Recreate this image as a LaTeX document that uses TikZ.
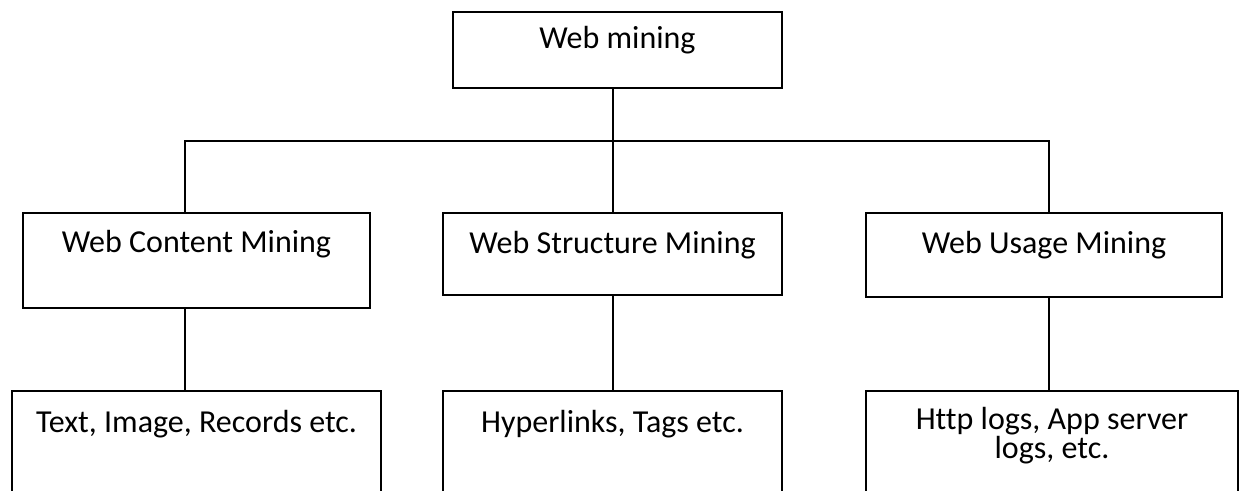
\documentclass[tikz,border=0pt]{standalone}
\usepackage{fontspec}
\setmainfont{Carlito}[Ligatures=NoCommon]
\usetikzlibrary{positioning}

\begin{document}
\begin{tikzpicture}[x=0.5pt,y=-0.5pt,
    box/.style={draw, line width=1pt, anchor=north, inner xsep=0pt, inner ysep=0pt,
      align=center, font=\fontsize{16}{13}\selectfont},
    link/.style={draw, line width=1pt}]
      \def \top {11}
      \def \mid {212}
      \def \low {390}
      \clip (0,0) rectangle (1239,491);
      % root
      \node[box, minimum width=164.5pt, text height=18.5pt, text depth=19.5pt] (web) at (617.5,\top) {Web mining};
      % second row
      \node[box, minimum width=173.5pt, text height=20pt, text depth=27.5pt] (content) at (196.5,\mid) {Web Content Mining};
      \node[box, minimum width=169.5pt, text height=20.5pt, text depth=20.5pt] (struct) at (612.5,\mid) {Web Structure Mining};
      \node[box, minimum width=178pt, text height=20.5pt, text depth=21.5pt] (usage) at (1044,\mid) {Web Usage Mining};
      % third row
      \node[box, minimum width=184.5pt, text height=21pt, text depth=50pt] (text) at (196.5,\low) {Text, Image, Records etc.};
      \node[box, minimum width=169.5pt, text height=21pt, text depth=50pt] (links) at (612.5,\low) {Hyperlinks, Tags etc.};
      \node[box, minimum width=186pt, text height=34pt, text depth=37pt] (logs) at (1052,\low) {Http logs, App server\\logs, etc.};
      % connectors
      \draw[link] (struct.north) -- (struct.north |- web.south);
      \draw[link] ([xshift=-5.75pt]content.north) -- ++(0,-71) -| ([xshift=2.5pt]usage.north);
      \foreach \a/\b/\s in {content/text/-5.75pt, struct/links/0pt, usage/logs/2.5pt}
               {
                 \draw[link] ([xshift=\s]\a.south) -- ([xshift=\s]\a.south |- \b.north);
               }
    \end{tikzpicture}
\end{document}
